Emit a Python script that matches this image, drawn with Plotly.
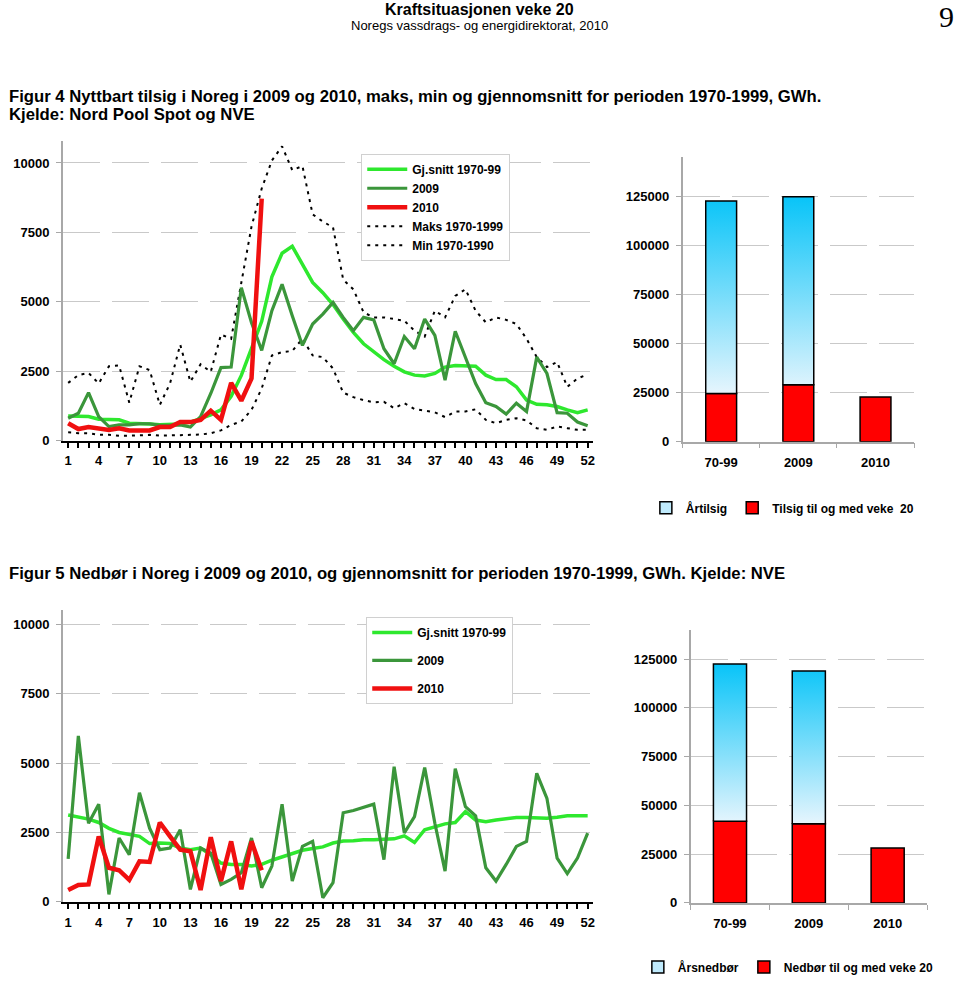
import plotly.graph_objects as go

# ---------------- data ----------------
weeks = list(range(1, 53))
week_labels = [str(w) if (w - 1) % 3 == 0 else "" for w in weeks]
weeks_2010 = list(range(1, 21))

tilsig_snitt = [890, 890, 870, 770, 750, 750, 630, 630, 600, 570, 570, 600, 670, 810, 930, 1110,
                1600, 2350, 3300, 4300, 5900, 6750, 7000, 6350, 5700, 5330, 4900, 4380, 3900, 3490,
                3190, 2920, 2680, 2480, 2360, 2330, 2420, 2650, 2710, 2690, 2680, 2360, 2200, 2200,
                1940, 1460, 1310, 1290, 1230, 1110, 1010, 1110]
tilsig_2009 = [810, 990, 1730, 870, 510, 570, 570, 610, 610, 550, 550, 570, 490, 870, 1700, 2630,
               2650, 5510, 4250, 3250, 4680, 5630, 4500, 3430, 4200, 4560, 4980, 4440, 3960, 4440,
               4350, 3310, 2770, 3750, 3310, 4380, 3790, 2180, 3940, 3010, 2060, 1370, 1230, 960,
               1350, 1050, 3010, 2420, 1010, 990, 670, 540]
tilsig_2010 = [630, 420, 490, 420, 390, 450, 370, 370, 370, 490, 490, 670, 670, 750, 1080, 750,
               2080, 1440, 2240, 8720]
tilsig_maks = [2080, 2360, 2440, 2060, 2680, 2710, 1370, 2680, 2540, 1290, 2060, 3460, 2120, 2750,
               2480, 3820, 3670, 5630, 7710, 9080, 10090, 10600, 9740, 9890, 8150, 7890, 7680, 5800,
               5450, 4620, 4440, 4440, 4380, 4320, 3960, 3750, 4680, 4440, 5210, 5450, 4680, 4260,
               4440, 4350, 4200, 3670, 3010, 2650, 2830, 1940, 2240, 2390]
tilsig_min = [300, 270, 270, 210, 210, 180, 180, 190, 210, 180, 180, 200, 210, 220, 270, 370, 570,
              690, 1110, 1880, 3070, 3190, 3230, 3670, 3070, 3010, 2600, 1730, 1570, 1460, 1380,
              1400, 1170, 1350, 1140, 1070, 1020, 850, 1050, 1050, 1130, 750, 630, 750, 810, 730,
              450, 390, 510, 450, 390, 390]

nedbor_snitt = [3130, 3050, 2980, 2860, 2650, 2500, 2420, 2360, 2100, 2120, 2100, 1940, 1880, 1940,
                1700, 1400, 1350, 1350, 1290, 1350, 1500, 1620, 1740, 1860, 1920, 1980, 2120, 2190,
                2200, 2240, 2240, 2240, 2270, 2380, 2140, 2600, 2710, 2810, 2860, 3250, 2950, 2890,
                2950, 3010, 3040, 3040, 3040, 3010, 3050, 3100, 3100, 3100]
nedbor_2009 = [1550, 5975, 2830, 3520, 270, 2300, 1700, 3930, 2650, 1880, 1940, 2600, 450, 1940,
               1760, 630, 810, 1050, 2300, 510, 1290, 3520, 750, 2000, 2180, 150, 690, 3210, 3290,
               3400, 3520, 1520, 4870, 2480, 3070, 4840, 2830, 1110, 4800, 3430, 3100, 1230, 750,
               1350, 2000, 2180, 4630, 3730, 1580, 1020, 1580, 2480]
nedbor_2010 = [430, 610, 630, 2360, 1230, 1140, 790, 1460, 1440, 2860, 2360, 1880, 1820, 430, 2330,
               750, 2180, 450, 2180, 1140]

bar_categories = ["70-99", "2009", "2010"]
aarstilsig = [122500, 124650, None]
tilsig_veke20 = [24500, 29000, 22700]
aarsnedbor = [122500, 118900, None]
nedbor_veke20 = [41800, 40600, 28100]

line_yticks = [0, 2500, 5000, 7500, 10000]
line_ytext = [str(v) for v in line_yticks]
bar_yticks = [0, 25000, 50000, 75000, 100000, 125000]
bar_ytext = [str(v) for v in bar_yticks]

# ---------------- helpers ----------------
W, H = 960, 984
def fx(px):
    return px / W
def fy(py):
    return 1 - py / H

BOLD = dict(family="Liberation Sans, Arial, sans-serif", size=13, color="black", weight="bold")
GRID = dict(showgrid=True, gridcolor="#c9c9c9", gridwidth=1, griddash="37px,12px")
C_SNITT = "#2ee82e"
C_2009 = "#3b963b"
C_2010 = "#f01010"
BLUE_SCALE = [[0, "#e6f5fd"], [1, "#08c4f8"]]

def bar_polys(lows, highs, half=0.2):
    xs, ys = [], []
    for i, (lo, hi) in enumerate(zip(lows, highs)):
        if hi is None:
            continue
        xs += [i - half, i - half, i + half, i + half, i - half, None]
        ys += [lo, hi, hi, lo, lo, None]
    return xs, ys

fig = go.Figure()

# ---------- top line chart ----------
fig.add_trace(go.Scatter(x=weeks, y=tilsig_maks, mode="lines", name="Maks 1970-1999",
                         line=dict(color="black", width=2, dash="3px,5px"),
                         xaxis="x", yaxis="y", legend="legend", legendrank=4))
fig.add_trace(go.Scatter(x=weeks, y=tilsig_min, mode="lines", name="Min 1970-1990",
                         line=dict(color="black", width=2, dash="3px,5px"),
                         xaxis="x", yaxis="y", legend="legend", legendrank=5))
fig.add_trace(go.Scatter(x=weeks, y=tilsig_snitt, mode="lines", name="Gj.snitt 1970-99",
                         line=dict(color=C_SNITT, width=3.5),
                         xaxis="x", yaxis="y", legend="legend", legendrank=1))
fig.add_trace(go.Scatter(x=weeks, y=tilsig_2009, mode="lines", name="2009",
                         line=dict(color=C_2009, width=3.2),
                         xaxis="x", yaxis="y", legend="legend", legendrank=2))
fig.add_trace(go.Scatter(x=weeks_2010, y=tilsig_2010, mode="lines", name="2010",
                         line=dict(color=C_2010, width=4.5),
                         xaxis="x", yaxis="y", legend="legend", legendrank=3))

# ---------- top bar chart ----------
bx, by = bar_polys(tilsig_veke20, aarstilsig)
fig.add_trace(go.Bar(x=[0, 1, 2], y=tilsig_veke20, width=0.4, name="Tilsig til og med veke\u00a0\u00a020",
                     marker=dict(color="#ff0000", line=dict(color="black", width=1.5)),
                     xaxis="x2", yaxis="y2", legend="legend2", legendrank=2))
fig.add_trace(go.Scatter(x=bx, y=by, mode="lines", fill="toself", name="Årtilsig",
                         fillgradient=dict(type="vertical", colorscale=BLUE_SCALE),
                         line=dict(color="black", width=1.5), showlegend=False,
                         xaxis="x2", yaxis="y2"))
fig.add_trace(go.Bar(x=[None], y=[None], name="Årtilsig",
                     marker=dict(color="#bfeafc", line=dict(color="black", width=1.5)),
                     xaxis="x2", yaxis="y2", legend="legend2", legendrank=1))

# ---------- bottom line chart ----------
fig.add_trace(go.Scatter(x=weeks, y=nedbor_snitt, mode="lines", name="Gj.snitt 1970-99",
                         line=dict(color=C_SNITT, width=3.5), legendgroup="a",
                         xaxis="x3", yaxis="y3", legend="legend3", legendrank=1))
fig.add_trace(go.Scatter(x=weeks, y=nedbor_2009, mode="lines", name="2009",
                         line=dict(color=C_2009, width=3.2), legendgroup="b",
                         xaxis="x3", yaxis="y3", legend="legend3", legendrank=2))
fig.add_trace(go.Scatter(x=weeks_2010, y=nedbor_2010, mode="lines", name="2010",
                         line=dict(color=C_2010, width=4.5), legendgroup="c",
                         xaxis="x3", yaxis="y3", legend="legend3", legendrank=3))

# ---------- bottom bar chart ----------
bx2, by2 = bar_polys(nedbor_veke20, aarsnedbor, half=0.21)
fig.add_trace(go.Bar(x=[0, 1, 2], y=nedbor_veke20, width=0.42, name="Nedbør til og med veke 20",
                     marker=dict(color="#ff0000", line=dict(color="black", width=1.5)),
                     xaxis="x4", yaxis="y4", legend="legend4", legendrank=2))
fig.add_trace(go.Scatter(x=bx2, y=by2, mode="lines", fill="toself", name="Årsnedbør",
                         fillgradient=dict(type="vertical", colorscale=BLUE_SCALE),
                         line=dict(color="black", width=1.5), showlegend=False,
                         xaxis="x4", yaxis="y4"))
fig.add_trace(go.Bar(x=[None], y=[None], name="Årsnedbør",
                     marker=dict(color="#bfeafc", line=dict(color="black", width=1.5)),
                     xaxis="x4", yaxis="y4", legend="legend4", legendrank=1))

# ---------- axes ----------
def line_x(dom_px):
    return dict(domain=[fx(dom_px[0]), fx(dom_px[1])], range=[0.5, 52.5],
                tickmode="array", tickvals=weeks, ticktext=week_labels,
                showline=True, linecolor="black", linewidth=2,
                ticks="outside", ticklen=5, tickwidth=1.5, tickcolor="black",
                showgrid=False, zeroline=False, tickfont=BOLD, ticklabelstandoff=2,
                fixedrange=True)

def line_y(bottom_px, top_px, ymax):
    return dict(domain=[fy(bottom_px), fy(top_px)], range=[0, ymax],
                tickmode="array", tickvals=line_yticks, ticktext=line_ytext,
                showline=True, linecolor="#a8a8a8", linewidth=2,
                ticks="outside", ticklen=5, tickcolor="#a8a8a8", tickwidth=1,
                zeroline=False, tickfont=BOLD, ticklabelstandoff=4, **GRID)

def bar_x(dom_px):
    return dict(domain=[fx(dom_px[0]), fx(dom_px[1])], range=[-0.5, 2.5],
                tickmode="array", tickvals=[0, 1, 2], ticktext=bar_categories,
                ticks="", showline=True, linecolor="#a8a8a8", linewidth=1.5,
                minor=dict(tickmode="array", tickvals=[-0.5, 0.5, 1.5, 2.5], ticks="outside",
                           ticklen=5, tickcolor="#a8a8a8", showgrid=False),
                showgrid=False, zeroline=False, tickfont=BOLD, ticklabelstandoff=8)

def bar_y(bottom_px, top_px, ymax):
    return dict(domain=[fy(bottom_px), fy(top_px)], range=[0, ymax],
                tickmode="array", tickvals=bar_yticks, ticktext=bar_ytext,
                showline=True, linecolor="#a8a8a8", linewidth=1.5,
                ticks="outside", ticklen=5, tickcolor="#a8a8a8",
                zeroline=False, tickfont=BOLD, ticklabelstandoff=4, **GRID)

TXT = "Liberation Sans, Arial, sans-serif"

fig.update_layout(
    width=W, height=H, margin=dict(l=0, r=0, t=0, b=0),
    paper_bgcolor="white", plot_bgcolor="white",
    font=dict(family="Liberation Sans, Arial, sans-serif", color="black"),
    barmode="overlay",
    xaxis=dict(anchor="y", **line_x((63.2, 594))),
    yaxis=dict(anchor="x", **line_y(444.3, 141.9, 10800)),
    xaxis2=dict(anchor="y2", **bar_x((684, 916))),
    yaxis2=dict(anchor="x2", **bar_y(445.3, 158, 145000)),
    xaxis3=dict(anchor="y3", **line_x((63.2, 594))),
    yaxis3=dict(anchor="x3", **line_y(909.3, 615.3, 10500)),
    xaxis4=dict(anchor="y4", **bar_x((692, 929))),
    yaxis4=dict(anchor="x4", **bar_y(910.3, 635, 140000)),
    legend=dict(x=fx(362), y=fy(155), xanchor="left", yanchor="top", bgcolor="white",
                bordercolor="#d0d0d0", borderwidth=1, font=dict(size=12, weight="bold"),
                tracegroupgap=0, itemwidth=40),
    legend2=dict(x=fx(784), y=fy(512), xanchor="center", yanchor="middle",
                 orientation="h", bgcolor="rgba(0,0,0,0)", font=dict(size=12, weight="bold"),
                 itemwidth=30),
    legend3=dict(x=fx(367), y=fy(622), xanchor="left", yanchor="top", bgcolor="white",
                 bordercolor="#d0d0d0", borderwidth=1, font=dict(size=12, weight="bold"),
                 tracegroupgap=9, itemwidth=40),
    legend4=dict(x=fx(790), y=fy(975), xanchor="center", yanchor="middle",
                 orientation="h", bgcolor="rgba(0,0,0,0)", font=dict(size=12, weight="bold"),
                 itemwidth=30),
    annotations=[
        dict(text="<b>Kraftsituasjonen veke 20</b>", x=fx(480), y=fy(10), xref="paper", yref="paper",
             xanchor="center", yanchor="middle", showarrow=False, font=dict(family=TXT, size=16)),
        dict(text="Noregs vassdrags- og energidirektorat, 2010", x=fx(480), y=fy(26),
             xref="paper", yref="paper", xanchor="center", yanchor="middle", showarrow=False,
             font=dict(family=TXT, size=13)),
        dict(text="9", x=fx(948), y=fy(17), xref="paper", yref="paper", xanchor="center",
             yanchor="middle", showarrow=False,
             font=dict(family="Liberation Serif, DejaVu Serif, serif", size=30)),
        dict(text="<b>Figur 4 Nyttbart tilsig i Noreg i 2009 og 2010, maks, min og gjennomsnitt for perioden 1970-1999, GWh.</b>",
             x=fx(7), y=fy(97), xref="paper", yref="paper", xanchor="left", yanchor="middle",
             showarrow=False, font=dict(family=TXT, size=16.7)),
        dict(text="<b>Kjelde: Nord Pool Spot og NVE</b>", x=fx(7), y=fy(115), xref="paper",
             yref="paper", xanchor="left", yanchor="middle", showarrow=False,
             font=dict(family=TXT, size=16.7)),
        dict(text="<b>Figur 5 Nedbør i Noreg i 2009 og 2010, og gjennomsnitt for perioden 1970-1999, GWh. Kjelde: NVE</b>",
             x=fx(7), y=fy(578), xref="paper", yref="paper", xanchor="left", yanchor="middle",
             showarrow=False, font=dict(family=TXT, size=16.7)),
    ],
)

fig.write_html("out.html")
